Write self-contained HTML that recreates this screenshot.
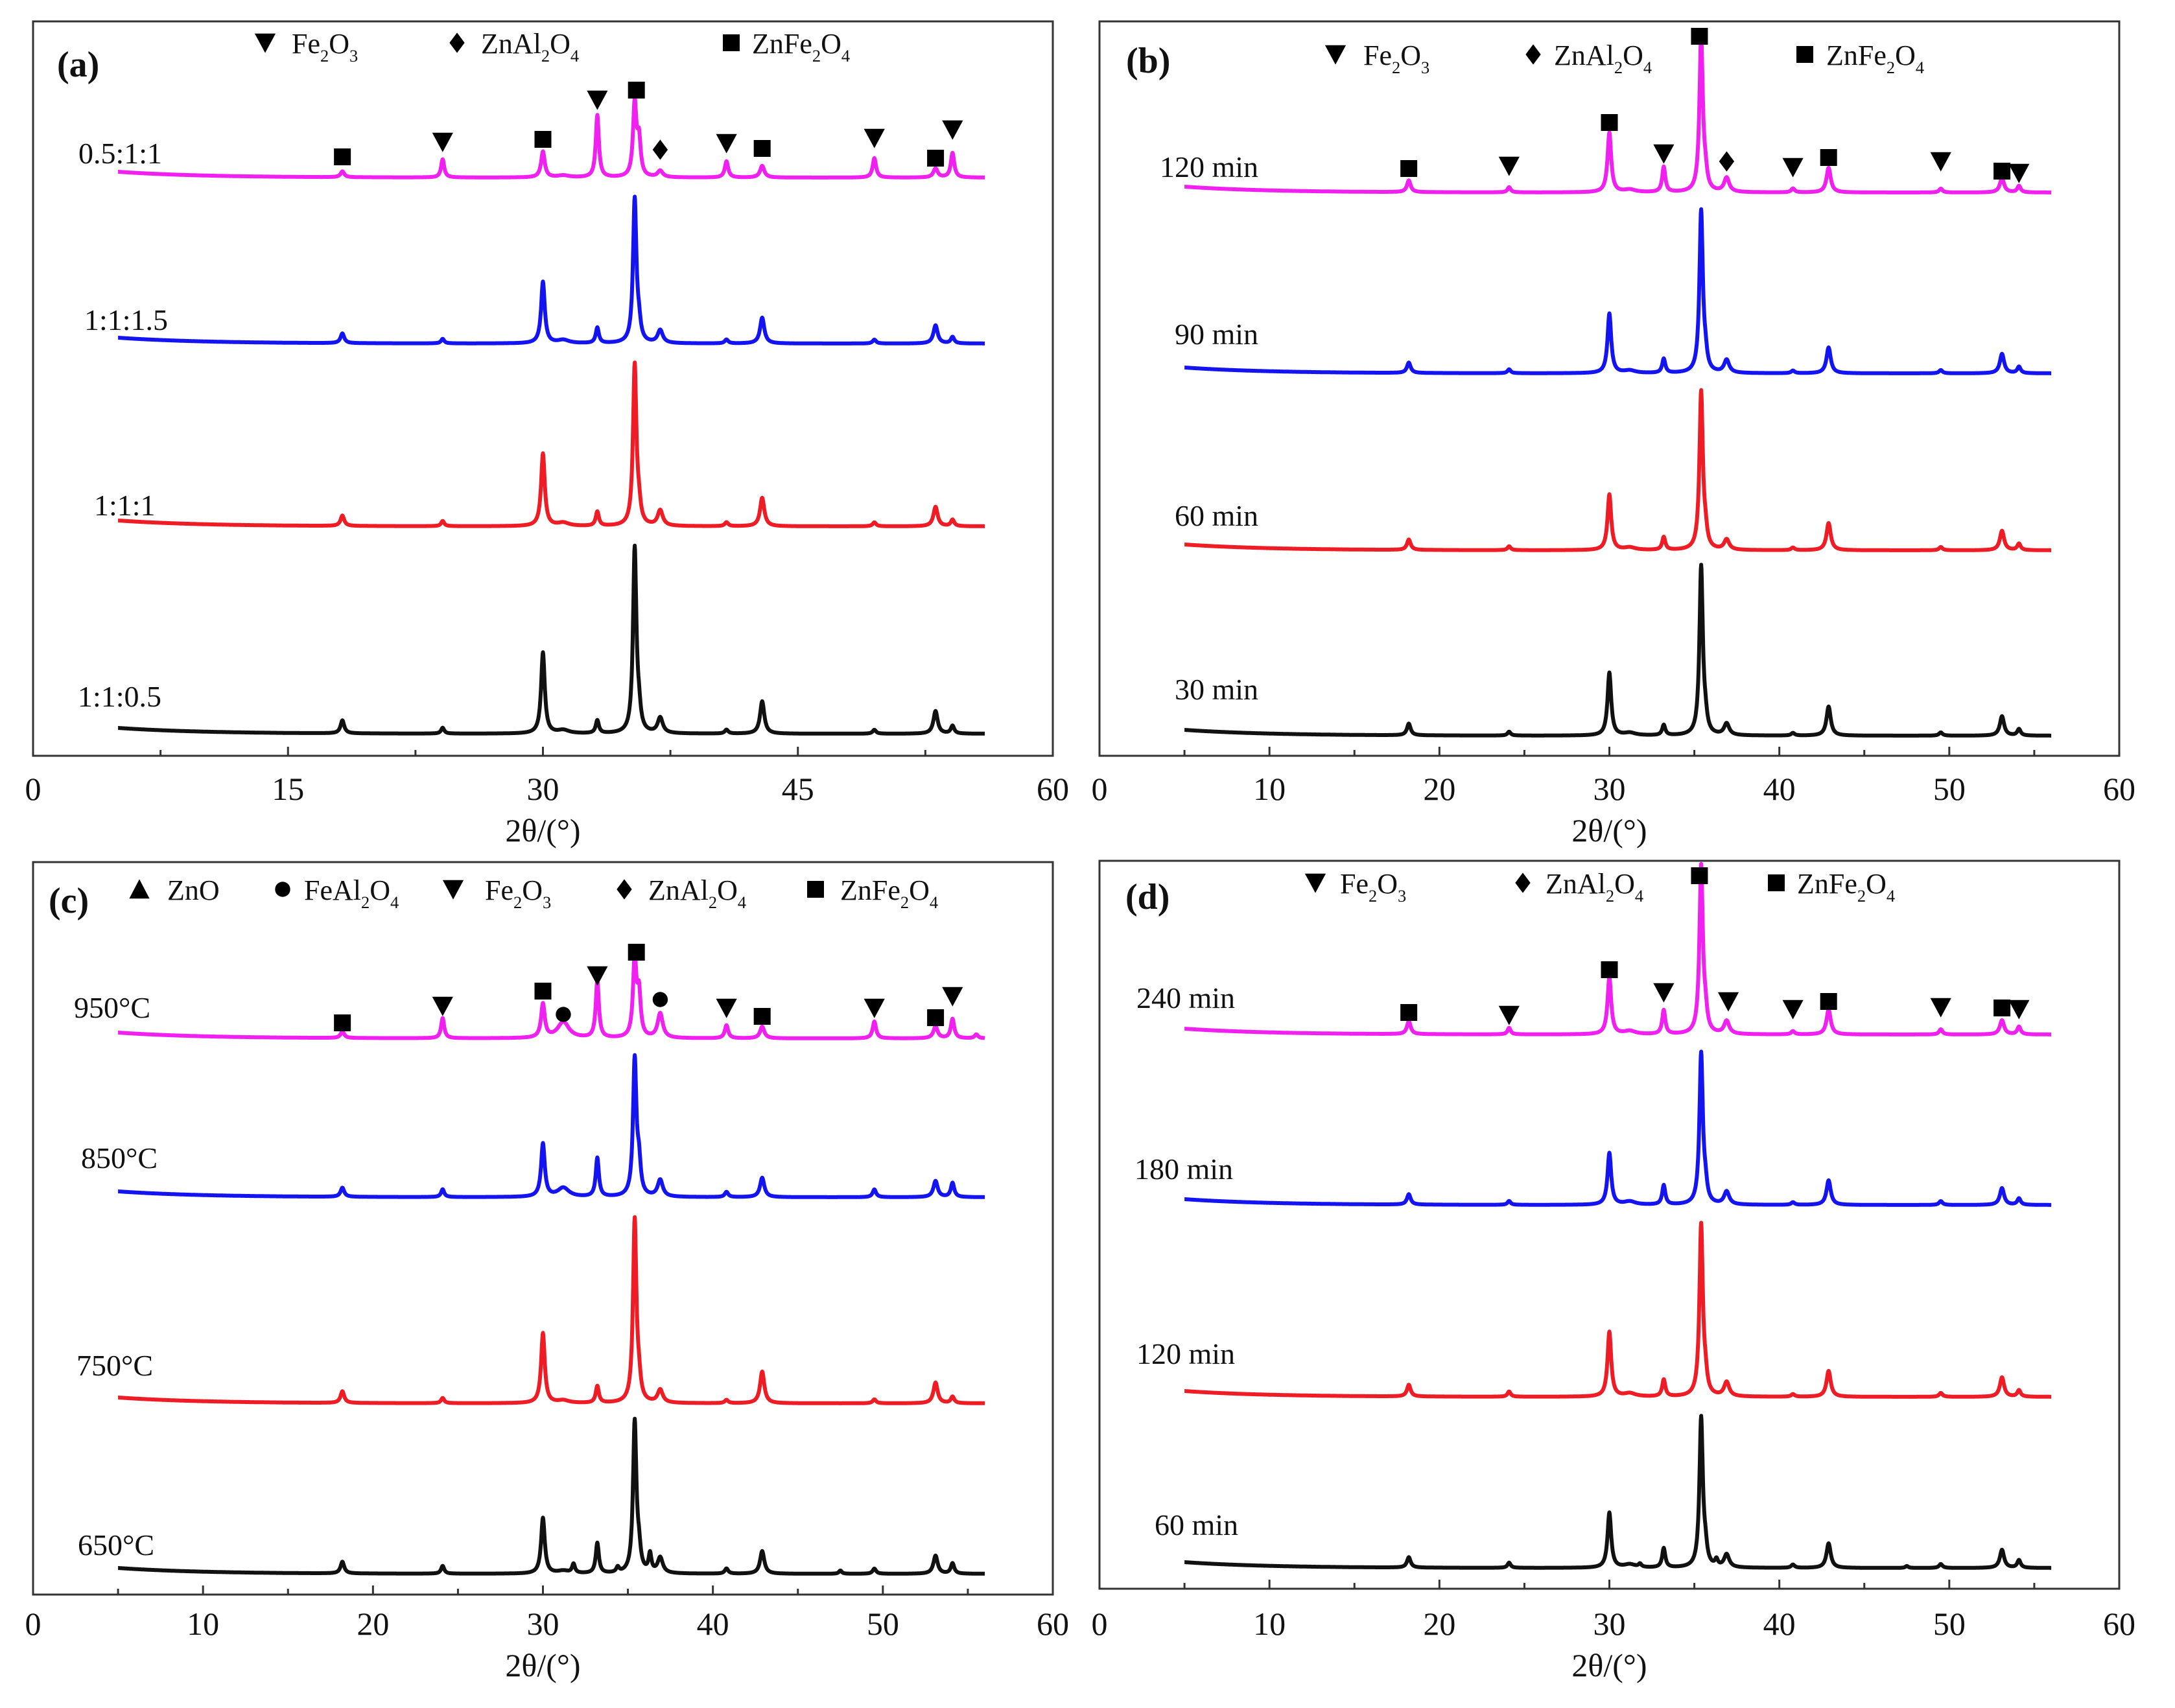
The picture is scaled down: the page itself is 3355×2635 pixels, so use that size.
<!DOCTYPE html>
<html><head><meta charset="utf-8">
<style>
html,body{margin:0;padding:0;background:#fff;}
svg{display:block;font-family:"Liberation Serif",serif;}
</style></head>
<body>
<svg id="fig" width="3355" height="2635" viewBox="0 0 3355 2635" xmlns="http://www.w3.org/2000/svg">
<rect x="0" y="0" width="3355" height="2635" fill="#fff"/>
</svg>
<script>
// Shared peak positions (2θ, degrees) and peak widths (degrees)
const peakPos   = [18.2, 24.1, 30.0, 31.2, 31.8, 33.2, 34.4, 35.4, 35.65, 36.3, 36.9, 40.8, 42.9, 47.5, 49.5, 53.1, 54.1, 55.5];
const peakWidth = [0.13, 0.11, 0.13, 0.40, 0.10, 0.11, 0.10, 0.12, 0.12, 0.10, 0.18, 0.12, 0.15, 0.10, 0.12, 0.15, 0.12, 0.12];

// Panel (a)
const aLabels  = ["1:1:0.5", "1:1:1", "1:1:1.5", "0.5:1:1"];
const aOffsets = [34, 354, 636, 892];
const aInt = [
  [20,9,125,5,0,20,0,285,25,0,24,6,50,0,6,35,12,0],
  [16,8,112,5,0,22,0,248,22,0,24,6,44,0,6,30,10,0],
  [15,7,95,5,0,24,0,222,22,0,20,6,40,0,6,28,10,0],
  [9,28,40,3,0,96,0,112,55,0,10,25,18,0,30,14,38,0]
];
// Panel (b)
const bLabels  = ["30 min", "60 min", "90 min", "120 min"];
const bOffsets = [31, 317, 590, 869];
const bInt = [
  [18,6,97,4,0,16,0,260,18,0,18,4,45,0,5,30,10,0],
  [16,6,86,4,0,20,0,243,20,0,16,4,42,0,5,30,10,0],
  [16,6,92,4,0,22,0,249,20,0,20,4,40,0,5,30,10,0],
  [18,8,92,4,0,39,0,239,20,0,22,6,38,0,6,22,10,0]
];
// Panel (c)
const cLabels  = ["650°C", "750°C", "850°C", "950°C"];
const cOffsets = [32, 295, 613, 858];
const cInt = [
  [18,12,86,4,14,47,8,233,28,28,24,8,35,5,8,28,16,0],
  [18,8,108,4,0,26,0,282,25,0,20,5,49,0,6,32,10,0],
  [14,12,82,14,0,60,0,210,45,0,26,8,30,0,12,25,22,0],
  [10,31,52,25,0,88,0,120,65,0,38,20,18,0,26,18,30,6]
];
// Panel (d)
const dLabels  = ["60 min", "120 min", "180 min", "240 min"];
const dOffsets = [32, 296, 592, 855];
const dInt = [
  [16,8,85,5,5,30,0,230,22,10,20,5,38,3,6,28,12,0],
  [18,8,100,5,0,26,0,264,22,0,22,4,40,0,6,30,10,0],
  [16,6,80,5,0,30,0,232,22,0,20,4,38,0,6,26,10,0],
  [20,10,88,5,0,37,0,258,25,0,20,5,38,0,8,22,12,0]
];
// Phase markers: type, 2θ, height (data units)
const aMarkType = ["sq","tri","sq","tri","sq","dia","tri","sq","tri","sq","tri"];
const aMarkX    = [18.2,24.1,30.0,33.2,35.5,36.9,40.8,42.9,49.5,53.1,54.1];
const aMarkY    = [924,947,951,1012,1027,935,945,937,953,922,966];
const bMarkType = ["sq","tri","sq","tri","sq","dia","tri","sq","tri","sq","tri"];
const bMarkX    = [18.2,24.1,30.0,33.2,35.3,36.9,40.8,42.9,49.5,53.1,54.1];
const bMarkY    = [906,910,977,929,1110,917,908,923,917,902,899];
const cMarkType = ["sq","tri","sq","cir","tri","sq","cir","tri","sq","tri","sq","tri"];
const cMarkX    = [18.2,24.1,30.0,31.2,33.2,35.5,36.9,40.8,42.9,49.5,53.1,54.1];
const cMarkY    = [882,908,931,895,955,991,918,905,892,905,890,923];
const dMarkType = ["sq","tri","sq","tri","sq","tri","tri","sq","tri","sq","tri"];
const dMarkX    = [18.2,24.1,30.0,33.2,35.3,37.0,40.8,42.9,49.5,53.1,54.1];
const dMarkY    = [889,885,955,920,1100,906,894,906,897,896,894];

const xDomain = [0, 60];
const aTicks = [0,15,30,45,60], aMinor = [7.5,22.5,37.5,52.5];
const bTicks = [0,10,20,30,40,50,60], bMinor = [5,15,25,35,45,55];

const NS = "http://www.w3.org/2000/svg";
const svg = document.getElementById("fig");
const colors = ["#111111","#ee1c25","#1414f0","#f020f0"];

function mk(tag, attrs, parent){
  const e = document.createElementNS(NS, tag);
  for (const k in attrs) e.setAttribute(k, attrs[k]);
  (parent||svg).appendChild(e);
  return e;
}

function formula(g, x, y, parts, fs, name){
  const t = mk("text", {x:x, y:y, "font-size":fs, fill:"#111"}, g);
  
  
  parts.forEach(p=>{
    const s = document.createElementNS(NS,"tspan");
    if (p[1]) { s.setAttribute("font-size", fs*0.6); s.setAttribute("dy", fs*0.3); }
    else if (p[2]) { s.setAttribute("dy", -fs*0.3); }
    s.textContent = p[0];
    t.appendChild(s);
  });
  return t;
}
const FE2O3 = [["Fe"],["2",1],["O",0,1],["3",1]];
const ZNAL = [["ZnAl"],["2",1],["O",0,1],["4",1]];
const ZNFE = [["ZnFe"],["2",1],["O",0,1],["4",1]];
const FEAL = [["FeAl"],["2",1],["O",0,1],["4",1]];

function marker(g, type, cx, cy, s){
  let e;
  if (type==="sq") e = mk("rect",{x:cx-s/2,y:cy-s/2,width:s,height:s,fill:"#000"},g);
  else if (type==="tri") e = mk("polygon",{points:`${cx-s*0.62},${cy-s*0.55} ${cx+s*0.62},${cy-s*0.55} ${cx},${cy+s*0.6}`,fill:"#000"},g);
  else if (type==="utri") e = mk("polygon",{points:`${cx-s*0.6},${cy+s*0.55} ${cx+s*0.6},${cy+s*0.55} ${cx},${cy-s*0.6}`,fill:"#000"},g);
  else if (type==="dia") e = mk("polygon",{points:`${cx},${cy-s*0.6} ${cx+s*0.45},${cy} ${cx},${cy+s*0.6} ${cx-s*0.45},${cy}`,fill:"#000"},g);
  else e = mk("circle",{cx:cx,cy:cy,r:s*0.45,fill:"#000"},g);
  
  
}

function panel(cfg){
  const L=cfg.L, R=cfg.R, T=cfg.T, B=cfg.B;
  const g = mk("g",{});
  
  
  const xs = v => L + (v - xDomain[0])/(xDomain[1]-xDomain[0])*(R-L);
  const ys = v => B - v;
  const fr = mk("rect",{x:L,y:T,width:R-L,height:B-T,fill:"none",stroke:"#333","stroke-width":3},g);
  
  
  cfg.ticks.forEach(t=>{
    const tk = mk("line",{x1:xs(t),x2:xs(t),y1:B,y2:B-14,stroke:"#333","stroke-width":3},g);
    
    
    const lb = mk("text",{x:xs(t),y:cfg.tickY,"font-size":50,"text-anchor":"middle",fill:"#111"},g);
    
    
    lb.textContent = t;
  });
  cfg.minor.forEach(t=>{
    const tk = mk("line",{x1:xs(t),x2:xs(t),y1:B,y2:B-9,stroke:"#333","stroke-width":3},g);
    
    
  });
  const at = mk("text",{x:(L+R)/2,y:cfg.titleY,"font-size":50,"text-anchor":"middle",fill:"#111"},g);
  
  
  at.textContent = "2θ/(°)";
  cfg.ints.forEach((ints, si)=>{
    let d = "";
    for (let x=5; x<=56.0001; x+=0.02){
      let y = cfg.offsets[si] + 9*Math.exp(-(x-5)/5);
      for (let k=0;k<peakPos.length;k++){
        if (!ints[k]) continue;
        const u = (x-peakPos[k])/peakWidth[k];
        y += ints[k]/(1+u*u);
      }
      d += (d?"L":"M") + xs(x).toFixed(1) + "," + ys(y).toFixed(1);
    }
    const p = mk("path",{d:d,fill:"none",stroke:colors[si],"stroke-width":6,"stroke-linejoin":"round"},g);
    
    
    const sl = mk("text",{x:cfg.labelX[si],y:cfg.labelY[si],"font-size":46,fill:"#111"},g);
    
    
    sl.textContent = cfg.labels[si];
  });
  cfg.mType.forEach((t,i)=> marker(g, t, xs(cfg.mX[i]), ys(cfg.mY[i]), 26));
  const pl = mk("text",{x:cfg.plX,y:cfg.plY,"font-size":56,"font-weight":"bold",fill:"#111"},g);
  
  
  pl.textContent = "("+cfg.id+")";
  const lg = mk("g",{},g);
  
  
  cfg.legend.forEach(e=>{
    marker(lg, e[0], e[1], cfg.legY-16, 26);
    formula(lg, e[2], cfg.legY, e[3], 44, 'legend-entry');
  });
}

panel({id:"a",L:51,R:1624,T:33,B:1166,ticks:aTicks,minor:aMinor,tickY:1234,titleY:1298,
  ints:aInt,offsets:aOffsets,labels:aLabels,labelX:[120,145,130,121],labelY:[1090,795,509,252],
  mType:aMarkType,mX:aMarkX,mY:aMarkY,plX:88,plY:118,legY:82,
  legend:[["tri",409,450,FE2O3],["dia",705,742,ZNAL],["sq",1128,1160,ZNFE]]});
panel({id:"b",L:1696,R:3269,T:33,B:1166,ticks:bTicks,minor:bMinor,tickY:1234,titleY:1298,
  ints:bInt,offsets:bOffsets,labels:bLabels,labelX:[1812,1812,1812,1789],labelY:[1079,811,531,273],
  mType:bMarkType,mX:bMarkX,mY:bMarkY,plX:1737,plY:112,legY:100,
  legend:[["tri",2060,2103,FE2O3],["dia",2365,2397,ZNAL],["sq",2784,2817,ZNFE]]});
panel({id:"c",L:51,R:1624,T:1330,B:2460,ticks:bTicks,minor:bMinor,tickY:2522,titleY:2586,
  ints:cInt,offsets:cOffsets,labels:cLabels,labelX:[120,118,125,114],labelY:[2399,2122,1802,1570],
  mType:cMarkType,mX:cMarkX,mY:cMarkY,plX:75,plY:1408,legY:1388,
  legend:[["utri",215,258,[["ZnO"]]],["cir",436,469,FEAL],["tri",699,748,FE2O3],["dia",963,1000,ZNAL],["sq",1258,1296,ZNFE]]});
panel({id:"d",L:1696,R:3269,T:1328,B:2451,ticks:bTicks,minor:bMinor,tickY:2522,titleY:2586,
  ints:dInt,offsets:dOffsets,labels:dLabels,labelX:[1781,1753,1750,1753],labelY:[2368,2104,1819,1555],
  mType:dMarkType,mX:dMarkX,mY:dMarkY,plX:1736,plY:1402,legY:1378,
  legend:[["tri",2029,2067,FE2O3],["dia",2349,2384,ZNAL],["sq",2740,2772,ZNFE]]});
</script>
</body></html>
